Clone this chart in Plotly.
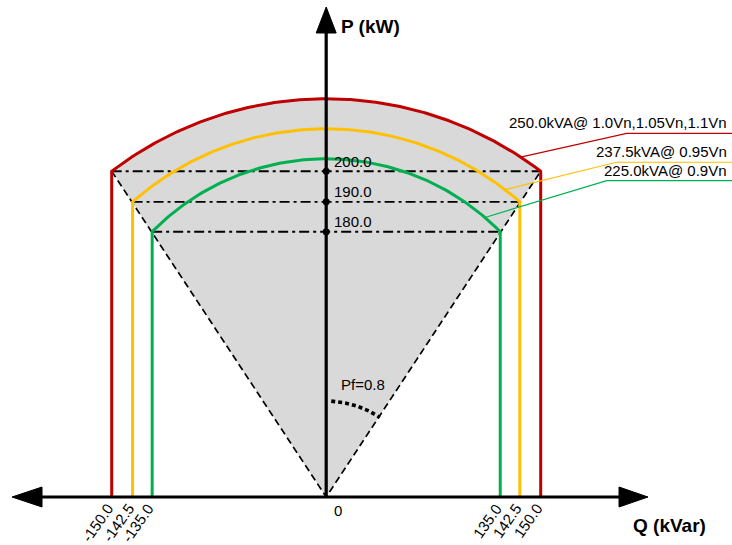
import numpy as np
import plotly.graph_objects as go

# ---- values shown on the diagram ----
curve_names = ["250.0kVA@ 1.0Vn,1.05Vn,1.1Vn", "237.5kVA@ 0.95Vn", "225.0kVA@ 0.9Vn"]
curve_colors = ["#C00000", "#FFC000", "#00B050"]
q_limits = [150.0, 142.5, 135.0]   # kVar
p_limits = [200.0, 190.0, 180.0]   # kW
pf_label = "Pf=0.8"

# ---- schematic (not to scale) drawing positions ----
corner_q = [150.0, 135.4, 121.7]
corner_p = [227.8, 206.4, 185.5]
apex_p = [278.5, 257.5, 236.5]
callout_q = [136.0, 125.0, 111.0]
elbow_q = [210.1, 203.1, 196.2]
elbow_p = [254.3, 234.1, 221.2]

W, H = 732, 545
S = 1.43            # px per drawing unit
OX, OY = 326.2, 497.0


def ux(px):
    return (px - OX) / S


def uy(py):
    return (OY - py) / S


FONT = "Liberation Sans, Arial, sans-serif"


def arc_params(X, C, A):
    c = (A * A - C * C - X * X) / (2 * (A - C))
    return c, A - c


def arc_pts(X, C, A, n=200):
    c, R = arc_params(X, C, A)
    t0 = np.arctan2(C - c, -X)
    t1 = np.arctan2(C - c, X)
    t = np.linspace(t0, t1, n)
    return R * np.cos(t), c + R * np.sin(t)


def arc_y(X, C, A, q):
    c, R = arc_params(X, C, A)
    return c + np.sqrt(R * R - q * q)


fig = go.Figure()

# grey capability area
gx, gy = arc_pts(corner_q[0], corner_p[0], apex_p[0])
fig.add_trace(go.Scatter(x=np.concatenate([[0], gx, [0]]), y=np.concatenate([[0], gy, [0]]),
                         mode="lines", fill="toself", fillcolor="#D9D9D9",
                         line=dict(width=0), hoverinfo="skip"))

# pf = 0.8 dashed triangle
fig.add_trace(go.Scatter(x=[-corner_q[0], 0, corner_q[0]], y=[corner_p[0], 0, corner_p[0]],
                         mode="lines", line=dict(color="black", width=1.7, dash="7px,4px"),
                         hoverinfo="skip"))

# dash-dot P limit lines
for i in range(3):
    fig.add_trace(go.Scatter(x=[-corner_q[i], corner_q[i]], y=[corner_p[i], corner_p[i]],
                             mode="lines",
                             line=dict(color="black", width=1.8, dash="10px,4px,3px,4px"),
                             hoverinfo="skip"))

# colored capability curves
for i in range(3):
    cx, cy = arc_pts(corner_q[i], corner_p[i], apex_p[i])
    fig.add_trace(go.Scatter(x=np.concatenate([[-corner_q[i]], cx, [corner_q[i]]]),
                             y=np.concatenate([[0], cy, [0]]),
                             mode="lines", line=dict(color=curve_colors[i], width=3),
                             hoverinfo="skip"))

# callout leader lines
for i in range(3):
    y0 = arc_y(corner_q[i], corner_p[i], apex_p[i], callout_q[i])
    fig.add_trace(go.Scatter(x=[callout_q[i], elbow_q[i], ux(W + 2)],
                             y=[y0, elbow_p[i], elbow_p[i]],
                             mode="lines", line=dict(color=curve_colors[i], width=1.2),
                             hoverinfo="skip"))

# axes
fig.add_trace(go.Scatter(x=[ux(40), ux(621)], y=[0, 0], mode="lines",
                         line=dict(color="black", width=3.2), hoverinfo="skip"))
fig.add_trace(go.Scatter(x=[0, 0], y=[0, uy(31)], mode="lines",
                         line=dict(color="black", width=3.2), hoverinfo="skip"))
hw = 10 / S
for xs, ys in [([ux(12), ux(42), ux(42), ux(12)], [0, hw, -hw, 0]),
               ([ux(648), ux(619), ux(619), ux(648)], [0, hw, -hw, 0]),
               ([0, hw, -hw, 0], [uy(7), uy(33), uy(33), uy(7)])]:
    fig.add_trace(go.Scatter(x=xs, y=ys, mode="lines", fill="toself", fillcolor="black",
                             line=dict(color="black", width=1), hoverinfo="skip"))

# dots at P limits
fig.add_trace(go.Scatter(x=[0, 0, 0], y=corner_p, mode="markers",
                         marker=dict(color="black", size=7), hoverinfo="skip"))

# pf arc
r = 96 / S
ang = np.radians(np.linspace(3, 34, 60))
fig.add_trace(go.Scatter(x=r * np.sin(ang), y=r * np.cos(ang), mode="lines",
                         line=dict(color="black", width=3.6, dash="4px,3px"),
                         hoverinfo="skip"))

ann = []
# P labels
for i in range(3):
    ann.append(dict(x=ux(332), y=corner_p[i] + 10 / S, text=f"{p_limits[i]:.1f}",
                    xanchor="left", yanchor="middle", showarrow=False,
                    font=dict(size=15, color="black", family=FONT)))
# legend texts
for i in range(3):
    ann.append(dict(x=ux(729), y=elbow_p[i] + 10.6 / S, text=curve_names[i],
                    xanchor="right", yanchor="middle", showarrow=False,
                    font=dict(size=15, color="black", family=FONT)))
# Q tick labels (rotated)
cw = {"-": 0.333, ".": 0.278}
ang_t = np.radians(55)
for sign in (-1, 1):
    for i in range(3):
        txt = f"{sign * q_limits[i]:.1f}"
        L = sum(cw.get(ch, 0.556) for ch in txt) * 15
        tpx = OX + sign * corner_q[i] * S
        cxp = tpx - 2 - (L / 2) * np.cos(ang_t)
        cyp = 505.0 + (L / 2) * np.sin(ang_t)
        ann.append(dict(x=ux(cxp), y=uy(cyp), text=txt, textangle=-55,
                        xanchor="center", yanchor="middle", showarrow=False,
                        font=dict(size=15, color="black", family=FONT)))
ann.append(dict(x=ux(332), y=uy(510), text="0", xanchor="left", yanchor="middle",
                showarrow=False, font=dict(size=15, color="black", family=FONT)))
ann.append(dict(x=ux(339), y=uy(384), text=pf_label, xanchor="left", yanchor="middle",
                showarrow=False, font=dict(size=15, color="black", family=FONT)))
ann.append(dict(x=ux(339), y=uy(26), text="<b>P (kW)</b>", xanchor="left", yanchor="middle",
                showarrow=False, font=dict(size=19, color="black", family=FONT)))
ann.append(dict(x=ux(631), y=uy(525.5), text="<b>Q (kVar)</b>", xanchor="left",
                yanchor="middle", showarrow=False,
                font=dict(size=19, color="black", family=FONT)))

fig.update_layout(
    width=W, height=H,
    margin=dict(l=0, r=0, t=0, b=0),
    paper_bgcolor="white", plot_bgcolor="white",
    showlegend=False,
    xaxis=dict(range=[ux(0), ux(W)], visible=False, fixedrange=True),
    yaxis=dict(range=[uy(H), uy(0)], visible=False, fixedrange=True),
    annotations=ann,
    font=dict(family=FONT),
)

fig.write_html("out.html", config={"displayModeBar": False},
               post_script="document.body.style.margin='0';document.body.style.overflow='hidden';")
